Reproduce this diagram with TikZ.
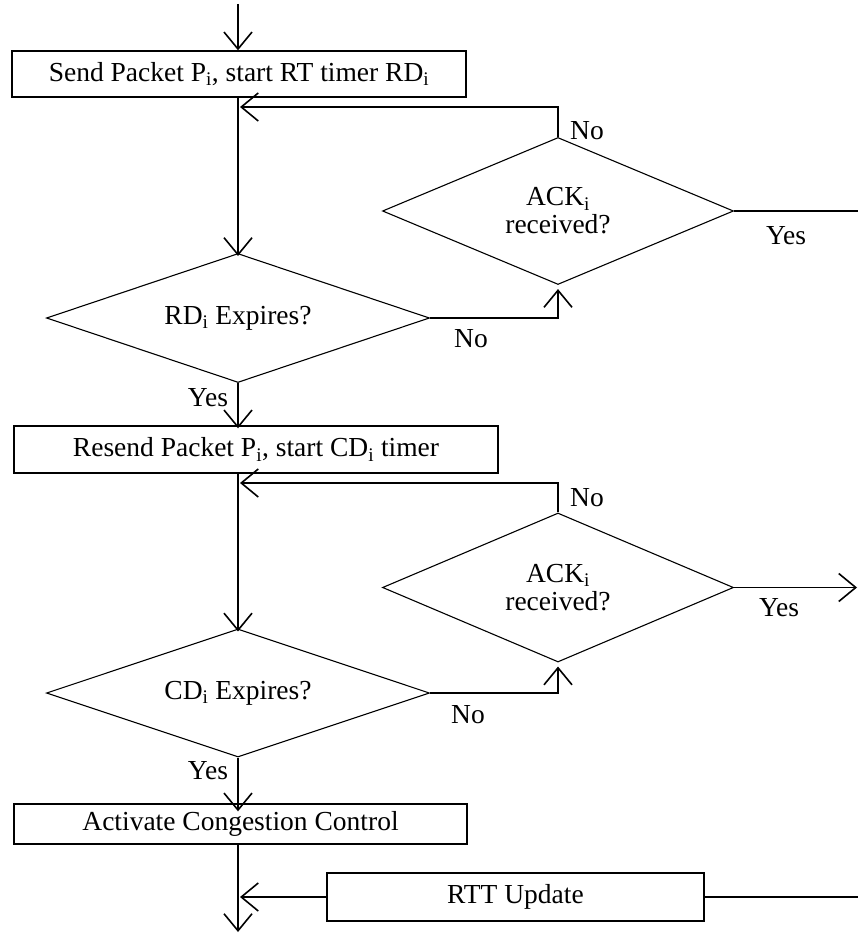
\documentclass[tikz,border=0pt]{standalone}
\usepackage{fontspec}
\setmainfont{Liberation Serif}
\usetikzlibrary{arrows.meta,shapes.geometric}
\begin{document}
\begin{tikzpicture}[x=1pt,y=-1pt,
  every node/.style={font=\fontsize{27.5}{26}\selectfont},
  ln/.style={line width=1.4pt},
  arr/.style={ln,-{Straight Barb[length=17pt,width=28pt,line width=1.6pt]}},
  box/.style={draw,line width=1.4pt,inner sep=0pt},
  dia/.style={draw,diamond,shape aspect=2.5,line width=1.1pt,inner sep=0pt,align=center},
  lbl/.style={inner sep=0pt}
]
\useasboundingbox (0,0) rectangle (858,933);

% process boxes
\node[box,minimum width=454pt,minimum height=46pt] (b1) at (239,74) {Send Packet P\textsubscript{i}, start RT timer RD\textsubscript{i}};
\node[box,minimum width=484pt,minimum height=47pt] (b2) at (256,449.5) {Resend Packet P\textsubscript{i}, start CD\textsubscript{i} timer};
\node[box,minimum width=453pt,minimum height=40pt] (b3) at (240.5,824) {Activate Congestion Control};
\node[box,minimum width=377pt,minimum height=48pt] (rt) at (515.5,897) {RTT Update};

% decisions
\node[dia,minimum width=351pt,minimum height=147pt] (a1) at (558,211) {ACK\textsubscript{i}\\[2pt]received?};
\node[dia,minimum width=383pt,minimum height=129pt] (r1) at (238,318) {RD\textsubscript{i} Expires?};
\node[dia,minimum width=351pt,minimum height=149pt] (a2) at (558,587.5) {ACK\textsubscript{i}\\[2pt]received?};
\node[dia,minimum width=383pt,minimum height=128pt] (c1) at (238,693) {CD\textsubscript{i} Expires?};

% labels
\node[lbl] (n1) at (587,131) {No};
\node[lbl] (y1) at (786,236) {Yes};
\node[lbl] (n2) at (471,339) {No};
\node[lbl] (y2) at (208,398) {Yes};
\node[lbl] (n3) at (587,498) {No};
\node[lbl] (y3) at (779,608) {Yes};
\node[lbl] (n4) at (468,715) {No};
\node[lbl] (y4) at (208,771) {Yes};

% free ends
\coordinate (s0) at (238,4);
\coordinate (f1) at (240,107);
\coordinate (e1) at (858,211);
\coordinate (f2) at (240,483);
\coordinate (e2) at (857,587.5);
\coordinate (end) at (238,932);
\coordinate (m) at (240,897);
\coordinate (e3) at (858,897);

% connectors
\draw[arr] (s0) -- (s0 |- b1.north);
\draw[arr] (r1.north |- b1.south) -- ([yshift=-3pt]r1.north);
\draw[arr] (a1.north) |- (f1);
\draw[ln] (a1.east) -- (e1);
\draw[arr] (r1.east) -| ([yshift=-4pt]a1.south);
\draw[arr] (r1.south) -- ([yshift=-3pt]r1.south |- b2.north);
\draw[arr] (c1.north |- b2.south) -- ([yshift=-3pt]c1.north);
\draw[arr] (a2.north) |- (f2);
\draw[arr] (a2.east) -- (e2);
\draw[arr] (c1.east) -| ([yshift=-4pt]a2.south);
\draw[arr] (c1.south) -- ([yshift=-8pt]c1.south |- b3.north);
\draw[arr] (c1.south |- b3.south) -- (end);
\draw[arr] (rt.west) -- (m);
\draw[ln] (rt.east) -- (e3);
\end{tikzpicture}
\end{document}
